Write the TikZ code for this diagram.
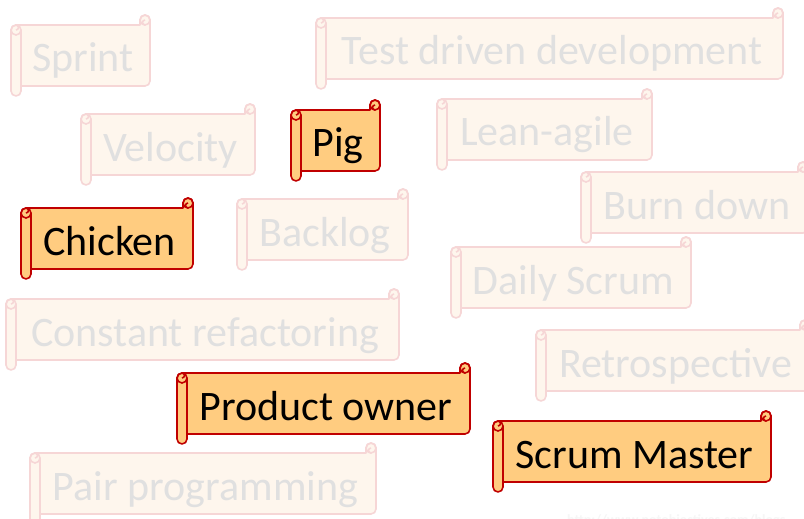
\documentclass[tikz,border=0pt]{standalone}
\usepackage{fontspec}
\setmainfont{Carlito}
\definecolor{actfill}{RGB}{255,204,128}
\definecolor{actline}{RGB}{192,0,0}
\definecolor{fadefill}{RGB}{254,246,237}
\definecolor{fadeline}{RGB}{246,214,214}
\definecolor{fadetext}{RGB}{224,224,224}
\definecolor{wmtext}{RGB}{246,246,246}
\tikzset{
  act body/.style={fill=actfill, draw=actline, line width=1.6pt, line join=round},
  act line/.style={draw=actline, line width=1.6pt},
  act text/.style={text=black},
  fade body/.style={fill=fadefill, draw=fadeline, line width=1.6pt, line join=round},
  fade line/.style={draw=fadeline, line width=1.6pt},
  fade text/.style={text=fadetext},
  scrolltext/.style={anchor=base, inner sep=0pt, font=\fontsize{42}{50}\selectfont},
}
% #1 name, #2 left, #3 top (screen px), #4 right, #5 kind (act/fade), #6 text
\newcommand\scrl[6]{%
  \pgfmathsetmacro\sL{#2}%
  \pgfmathsetmacro\sY{-(#3)}%
  \pgfmathsetmacro\sZ{-(#3)-81}%
  \pgfmathsetmacro\sR{#4}%
  \path[#5 body] (\sL,\sY-15) arc[start angle=180,end angle=90,radius=5]
     -- (\sR-10,\sY-10) -- (\sR-10,\sY-5) arc[start angle=180,end angle=0,radius=5]
     -- (\sR,\sZ+15) arc[start angle=0,end angle=-90,radius=5]
     -- (\sL+10,\sZ+10) -- (\sL+10,\sZ+5) arc[start angle=0,end angle=-180,radius=5]
     -- cycle;
  \path[#5 line] (\sL+10,\sY-15) -- (\sL+10,\sZ+5);
  \path[#5 line] (\sL+5,\sY-15) circle[radius=5];
  \path[#5 line] (\sL+5,\sY-10) arc[start angle=90,end angle=-90,radius=2.5];
  \path[#5 line] (\sR-5,\sY-5) circle[radius=5];
  \path[#5 line] (\sR-5,\sY-5) arc[start angle=90,end angle=270,radius=2.5];
  \node[scrolltext, #5 text] (#1) at ({(\sL+10+\sR-5)/2}, \sY-57) {#6};
}
\begin{document}
\begin{tikzpicture}[x=1pt,y=1pt]
\useasboundingbox (0,0) rectangle (804,-519);
\fill[white] (0,0) rectangle (804,-519);
% faded scrolls
\scrl{sprint}{11}{15}{150}{fade}{Sprint}
\scrl{tdd}{316}{8}{783}{fade}{Test driven development}
\scrl{velocity}{81}{104}{255}{fade}{Velocity}
\scrl{lean}{437}{89}{652}{fade}{Lean-agile}
\scrl{burn}{581}{162}{808}{fade}{Burn down}
\scrl{backlog}{237}{189}{408}{fade}{Backlog}
\scrl{daily}{451}{237}{691}{fade}{Daily Scrum}
\scrl{refactor}{6}{289}{399}{fade}{Constant refactoring}
\scrl{retro}{536}{320}{810}{fade}{Retrospective}
\scrl{pair}{30}{443}{376}{fade}{Pair programming}
% highlighted scrolls
\scrl{pig}{291}{100}{380}{act}{Pig}
\scrl{chicken}{21}{198}{193}{act}{Chicken}
\scrl{po}{177}{363}{470}{act}{Product owner}
\scrl{sm}{493}{411}{771}{act}{Scrum Master}
% watermark
\node[anchor=base west, inner sep=0pt, text=wmtext, font=\fontsize{14}{16}\selectfont\bfseries] (wm) at (567,-524) {http://www.notobjectives.com/blogs};
\end{tikzpicture}
\end{document}
